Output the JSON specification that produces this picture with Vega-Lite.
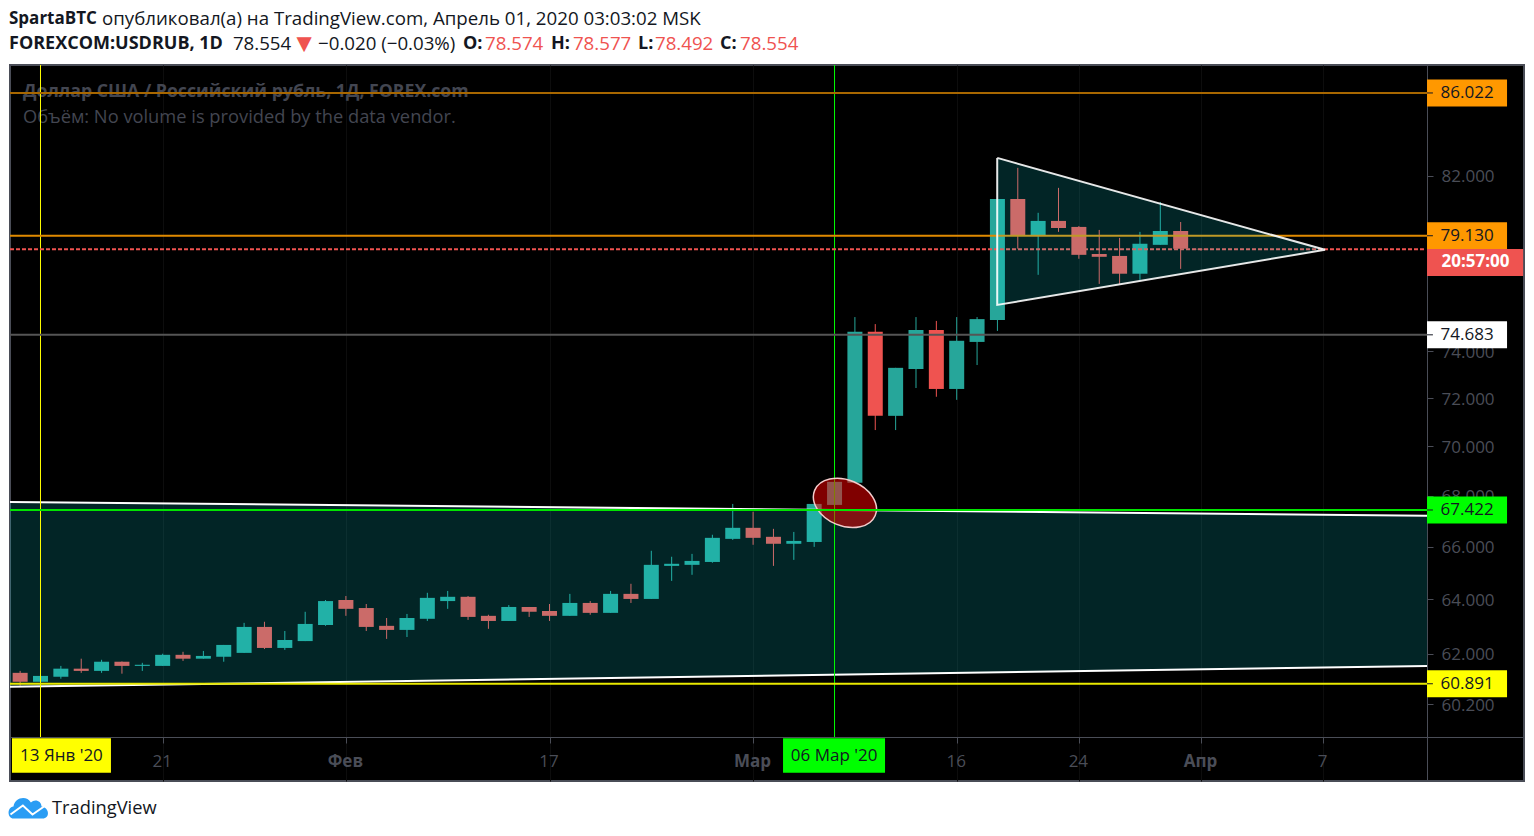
{"$schema":"https://vega.github.io/schema/vega-lite/v6.json","width":1514,"height":716,"autosize":{"type":"none"},"padding":{"left":10,"top":65,"right":10,"bottom":55},"background":"#ffffff","view":{"fill":"#000000","stroke":"#4a4d57","strokeWidth":2},
"resolve":{"scale":{"color":"independent"},"axis":{"x":"independent","y":"independent"}},
"config":{"font":"Open Sans","text":{"font":"Open Sans"}},
"datasets":{
"candles":[
{"bar":-1,"open":61.31,"high":61.38,"low":60.85,"close":60.99},
{"bar":0,"open":60.99,"high":61.25,"low":60.95,"close":61.2},
{"bar":1,"open":61.17,"high":61.56,"low":61.1,"close":61.46},
{"bar":2,"open":61.46,"high":61.82,"low":61.31,"close":61.38},
{"bar":3,"open":61.38,"high":61.78,"low":61.31,"close":61.71},
{"bar":4,"open":61.71,"high":61.72,"low":61.28,"close":61.56},
{"bar":5,"open":61.56,"high":61.67,"low":61.38,"close":61.6},
{"bar":6,"open":61.56,"high":62,"low":61.56,"close":61.96},
{"bar":7,"open":61.96,"high":62.07,"low":61.74,"close":61.82},
{"bar":8,"open":61.82,"high":62.1,"low":61.82,"close":61.92},
{"bar":9,"open":61.89,"high":62.32,"low":61.71,"close":62.32},
{"bar":10,"open":62.03,"high":63.13,"low":62.03,"close":62.98},
{"bar":11,"open":62.98,"high":63.17,"low":62.17,"close":62.21},
{"bar":12,"open":62.21,"high":62.83,"low":62.14,"close":62.5},
{"bar":13,"open":62.46,"high":63.54,"low":62.46,"close":63.09},
{"bar":14,"open":63.05,"high":63.98,"low":63.02,"close":63.94},
{"bar":15,"open":63.98,"high":64.13,"low":63.39,"close":63.65},
{"bar":16,"open":63.68,"high":63.83,"low":62.83,"close":62.98},
{"bar":17,"open":63.02,"high":63.31,"low":62.54,"close":62.87},
{"bar":18,"open":62.87,"high":63.46,"low":62.61,"close":63.31},
{"bar":19,"open":63.28,"high":64.25,"low":63.2,"close":64.06},
{"bar":20,"open":63.94,"high":64.32,"low":63.65,"close":64.1},
{"bar":21,"open":64.1,"high":64.13,"low":63.24,"close":63.35},
{"bar":22,"open":63.39,"high":63.43,"low":62.91,"close":63.2},
{"bar":23,"open":63.2,"high":63.79,"low":63.2,"close":63.72},
{"bar":24,"open":63.72,"high":63.72,"low":63.35,"close":63.54},
{"bar":25,"open":63.57,"high":63.83,"low":63.2,"close":63.39},
{"bar":26,"open":63.39,"high":64.21,"low":63.39,"close":63.87},
{"bar":27,"open":63.87,"high":63.94,"low":63.43,"close":63.5},
{"bar":28,"open":63.5,"high":64.32,"low":63.5,"close":64.21},
{"bar":29,"open":64.21,"high":64.59,"low":63.87,"close":64.02},
{"bar":30,"open":64.02,"high":65.85,"low":64.02,"close":65.31},
{"bar":31,"open":65.27,"high":65.62,"low":64.7,"close":65.35},
{"bar":32,"open":65.31,"high":65.73,"low":64.93,"close":65.46},
{"bar":33,"open":65.42,"high":66.47,"low":65.39,"close":66.35},
{"bar":34,"open":66.31,"high":67.68,"low":66.27,"close":66.74},
{"bar":35,"open":66.74,"high":67.37,"low":66.08,"close":66.35},
{"bar":36,"open":66.39,"high":66.7,"low":65.27,"close":66.12},
{"bar":37,"open":66.12,"high":66.58,"low":65.5,"close":66.23},
{"bar":38,"open":66.19,"high":67.68,"low":66,"close":67.68},
{"bar":39,"open":67.64,"high":68.6,"low":67.45,"close":68.56},
{"bar":40,"open":68.52,"high":75.5,"low":68.5,"close":74.85},
{"bar":41,"open":74.85,"high":75.19,"low":70.67,"close":71.26},
{"bar":42,"open":71.26,"high":73.29,"low":70.67,"close":73.29},
{"bar":43,"open":73.24,"high":75.5,"low":72.43,"close":74.93},
{"bar":44,"open":74.93,"high":75.33,"low":72.06,"close":72.39},
{"bar":45,"open":72.39,"high":75.5,"low":71.93,"close":74.46},
{"bar":46,"open":74.41,"high":75.5,"low":73.41,"close":75.41},
{"bar":47,"open":75.37,"high":80.9,"low":74.89,"close":80.9},
{"bar":48,"open":80.9,"high":82.39,"low":78.58,"close":79.17},
{"bar":49,"open":79.17,"high":80.25,"low":77.39,"close":79.87},
{"bar":50,"open":79.87,"high":81.43,"low":79.36,"close":79.54},
{"bar":51,"open":79.59,"high":79.63,"low":78.12,"close":78.3},
{"bar":52,"open":78.34,"high":79.45,"low":76.98,"close":78.21},
{"bar":53,"open":78.25,"high":79.08,"low":76.98,"close":77.44},
{"bar":54,"open":77.44,"high":79.36,"low":77.16,"close":78.81},
{"bar":55,"open":78.76,"high":80.76,"low":78.76,"close":79.4},
{"bar":56,"open":79.4,"high":79.82,"low":77.66,"close":78.58},
{"bar":57,"open":78.574,"high":78.577,"low":78.492,"close":78.554}],
"channel":[{"bar":-1.498,"top":67.76,"bottom":60.81},{"bar":68.1,"top":67.21,"bottom":61.56}],
"wedge":[{"bar":46.99,"top":82.87,"bottom":76.04},{"bar":63.09,"top":78.53,"bottom":78.53}],
"wedgeEdge":[{"bar":46.99,"price":82.87,"seq":1},{"bar":63.09,"price":78.53,"seq":2},{"bar":46.99,"price":76.04,"seq":3},{"bar":46.99,"price":82.87,"seq":4}],
"levels":[{"price":86.08,"label":"86.022"},{"price":79.18,"label":"79.130"},{"price":74.72,"label":"74.683"},{"price":67.44,"label":"67.422"},{"price":60.92,"label":"60.891"}],
"marks":[{"bar":0,"date":"13 Янв '20","center":1.03},{"bar":39,"date":"06 Мар '20","center":38.98}],
"dateTags":[{"start":-1.4,"end":3.46,"date":"13 Янв '20"},{"start":36.47,"end":41.48,"date":"06 Мар '20"}],
"header":[
{"bar":-1.547,"price":89.89,"text":"SpartaBTC","weight":"bold","tone":"ink"},
{"bar":3.02,"price":89.89,"text":"опубликовал(а) на TradingView.com, Апрель 01, 2020 03:03:02 MSK","weight":"normal","tone":"ink"},
{"bar":-1.547,"price":88.59,"text":"FOREXCOM:USDRUB, 1D","weight":"bold","tone":"ink"},
{"bar":9.45,"price":88.59,"text":"78.554","weight":"normal","tone":"ink"},
{"bar":12.31,"price":88.59,"text":"▼","weight":"normal","tone":"red"},
{"bar":13.63,"price":88.59,"text":"−0.020 (−0.03%)","weight":"normal","tone":"ink"},
{"bar":20.75,"price":88.59,"text":"O:","weight":"bold","tone":"ink"},
{"bar":21.83,"price":88.59,"text":"78.574","weight":"normal","tone":"red"},
{"bar":25.07,"price":88.59,"text":"H:","weight":"bold","tone":"ink"},
{"bar":26.15,"price":88.59,"text":"78.577","weight":"normal","tone":"red"},
{"bar":29.35,"price":88.59,"text":"L:","weight":"bold","tone":"ink"},
{"bar":30.18,"price":88.59,"text":"78.492","weight":"normal","tone":"red"},
{"bar":33.37,"price":88.59,"text":"C:","weight":"bold","tone":"ink"},
{"bar":34.36,"price":88.59,"text":"78.554","weight":"normal","tone":"red"},
{"bar":-0.86,"price":86.13,"text":"Доллар США / Российский рубль, 1Д, FOREX.com","weight":"bold","tone":"ghost"},
{"bar":-0.86,"price":84.83,"text":"Объём: No volume is provided by the data vendor.","weight":"normal","tone":"ghost"},
{"bar":0.565,"price":56.63,"text":"TradingView","weight":"normal","tone":"ink"}]
},
"layer":[
{"data":{"name":"candles"},"mark":{"type":"rule","strokeWidth":1},"encoding":{
"x":{"field":"bar","type":"quantitative","title":null,"scale":{"domain":[-1.498,72.863],"nice":false,"zero":false,"padding":0},"axis":{"orient":"bottom","offset":-44,"values":[6,15,25,35,45,51,57,63],"labelExpr":"{'6':'21','15':'Фев','25':'17','35':'Мар','45':'16','51':'24','57':'Апр','63':'7'}[datum.value]","title":null,"grid":true,"gridColor":"#0d0d0d","domainColor":"#4a4d57","tickColor":"#4a4d57","tickSize":6,"labelColor":"#4a4d57","labelFontSize":17,"labelFont":"Open Sans","labelPadding":10,"labelOffset":-1,"labelFontWeight":{"condition":{"test":"datum.value==15||datum.value==35||datum.value==57","value":"bold"},"value":"normal"}}},
"y":{"field":"high","type":"quantitative","title":null,"scale":{"type":"log","domain":[57.55,87.5],"nice":false,"zero":false,"padding":0},"axis":{"orient":"right","offset":-97,"values":[60.2,62,64,66,68,70,72,74,82],"format":".3f","title":null,"grid":false,"domainColor":"#4a4d57","tickColor":"#4a4d57","tickSize":6,"labelColor":"#4a4d57","labelFontSize":17,"labelFont":"Open Sans","labelPadding":8,"labelOffset":1}},
"y2":{"field":"low"},
"color":{"condition":{"test":"datum.close>=datum.open","value":"#26a69a"},"value":"#ef5350"}}},
{"data":{"name":"candles"},"mark":{"type":"bar","orient":"vertical","size":15},"encoding":{
"x":{"field":"bar","type":"quantitative","axis":null,"scale":{"domain":[-1.498,72.863],"nice":false,"zero":false,"padding":0}},
"y":{"field":"open","type":"quantitative","axis":null,"scale":{"type":"log","domain":[57.55,87.5],"nice":false,"zero":false,"padding":0}},
"y2":{"field":"close"},
"color":{"condition":{"test":"datum.close>=datum.open","value":"#26a69a"},"value":"#ef5350"}}},
{"data":{"name":"header"},"transform":[{"filter":"datum.weight=='normal'"}],"mark":{"type":"text","align":"left","baseline":"middle","font":"Open Sans"},"encoding":{
"x":{"field":"bar","type":"quantitative","axis":null,"scale":{"domain":[-1.498,72.863],"nice":false,"zero":false,"padding":0}},
"y":{"field":"price","type":"quantitative","axis":null,"scale":{"type":"log","domain":[57.55,87.5],"nice":false,"zero":false,"padding":0}},
"text":{"field":"text"},
"size":{"condition":[{"test":"datum.text=='▼'","value":26},{"test":"datum.tone=='ghost'||datum.text=='TradingView'","value":18.3}],"value":18.7},
"color":{"field":"tone","type":"nominal","legend":null,"scale":{"domain":["ink","red","ghost"],"range":["#131722","#ef5350","#434651"]}}}},
{"data":{"name":"header"},"transform":[{"filter":"datum.weight=='bold'"}],"mark":{"type":"text","align":"left","baseline":"middle","fontWeight":"bold","font":"Open Sans"},"encoding":{
"x":{"field":"bar","type":"quantitative","axis":null,"scale":{"domain":[-1.498,72.863],"nice":false,"zero":false,"padding":0}},
"y":{"field":"price","type":"quantitative","axis":null,"scale":{"type":"log","domain":[57.55,87.5],"nice":false,"zero":false,"padding":0}},
"text":{"field":"text"},
"size":{"condition":[{"test":"datum.tone=='ghost'","value":17.7},{"test":"datum.text=='SpartaBTC'","value":17}],"value":18},
"color":{"field":"tone","type":"nominal","legend":null,"scale":{"domain":["ink","red","ghost"],"range":["#131722","#ef5350","#434651"]}}}},
{"data":{"name":"channel"},"mark":{"type":"area","color":"#0deff5","opacity":0.155},"encoding":{
"x":{"field":"bar","type":"quantitative","axis":null,"scale":{"domain":[-1.498,72.863],"nice":false,"zero":false,"padding":0}},
"y":{"field":"top","type":"quantitative","axis":null,"scale":{"type":"log","domain":[57.55,87.5],"nice":false,"zero":false,"padding":0}},
"y2":{"field":"bottom"}}},
{"data":{"name":"channel"},"mark":{"type":"line","color":"#ffffff","strokeWidth":2},"encoding":{
"x":{"field":"bar","type":"quantitative","axis":null,"scale":{"domain":[-1.498,72.863],"nice":false,"zero":false,"padding":0}},
"y":{"field":"top","type":"quantitative","axis":null,"scale":{"type":"log","domain":[57.55,87.5],"nice":false,"zero":false,"padding":0}}}},
{"data":{"name":"channel"},"mark":{"type":"line","color":"#ffffff","strokeWidth":2},"encoding":{
"x":{"field":"bar","type":"quantitative","axis":null,"scale":{"domain":[-1.498,72.863],"nice":false,"zero":false,"padding":0}},
"y":{"field":"bottom","type":"quantitative","axis":null,"scale":{"type":"log","domain":[57.55,87.5],"nice":false,"zero":false,"padding":0}}}},
{"data":{"name":"marks"},"mark":{"type":"rule","strokeWidth":1},"encoding":{
"x":{"field":"bar","type":"quantitative","axis":null,"scale":{"domain":[-1.498,72.863],"nice":false,"zero":false,"padding":0}},
"y":{"datum":87.5,"type":"quantitative","axis":null,"scale":{"type":"log","domain":[57.55,87.5],"nice":false,"zero":false,"padding":0}},
"y2":{"datum":59.05},
"color":{"field":"date","type":"nominal","legend":null,"scale":{"domain":["13 Янв '20","06 Мар '20"],"range":["#ffff00","#00ff00"]}}}},
{"data":{"values":[{"bar":39.51,"price":67.72}]},"mark":{"type":"point","shape":"M -0.924 -0.383 A 1 0.7 22.5 1 1 0.924 0.383 A 1 0.7 22.5 1 1 -0.924 -0.383 Z","size":4300,"filled":true,"fill":"#ff0000","fillOpacity":0.5,"stroke":"#f3cccc","strokeWidth":1.5,"strokeOpacity":1,"opacity":1},"encoding":{
"x":{"field":"bar","type":"quantitative","axis":null,"scale":{"domain":[-1.498,72.863],"nice":false,"zero":false,"padding":0}},
"y":{"field":"price","type":"quantitative","axis":null,"scale":{"type":"log","domain":[57.55,87.5],"nice":false,"zero":false,"padding":0}}}},
{"data":{"name":"levels"},"mark":{"type":"rule","strokeWidth":2},"encoding":{
"x":{"datum":-1.498,"type":"quantitative","axis":null,"scale":{"domain":[-1.498,72.863],"nice":false,"zero":false,"padding":0}},
"x2":{"datum":68.1},
"y":{"field":"price","type":"quantitative","axis":null,"scale":{"type":"log","domain":[57.55,87.5],"nice":false,"zero":false,"padding":0}},
"color":{"field":"label","type":"nominal","legend":null,"scale":{"domain":["86.022","79.130","74.683","67.422","60.891"],"range":["#a86700","#e08a00","#555555","#00e600","#e8e800"]}}}},
{"data":{"values":[{"price":78.554}]},"mark":{"type":"rule","strokeWidth":2,"color":"#ef5350","strokeDash":[4,2]},"encoding":{
"x":{"datum":-1.498,"type":"quantitative","axis":null,"scale":{"domain":[-1.498,72.863],"nice":false,"zero":false,"padding":0}},
"x2":{"datum":67.95},
"y":{"field":"price","type":"quantitative","axis":null,"scale":{"type":"log","domain":[57.55,87.5],"nice":false,"zero":false,"padding":0}}}},
{"data":{"name":"wedge"},"mark":{"type":"area","color":"#0deff5","opacity":0.155},"encoding":{
"x":{"field":"bar","type":"quantitative","axis":null,"scale":{"domain":[-1.498,72.863],"nice":false,"zero":false,"padding":0}},
"y":{"field":"top","type":"quantitative","axis":null,"scale":{"type":"log","domain":[57.55,87.5],"nice":false,"zero":false,"padding":0}},
"y2":{"field":"bottom"}}},
{"data":{"name":"wedgeEdge"},"mark":{"type":"line","color":"#ffffff","strokeWidth":2,"opacity":0.9},"encoding":{
"x":{"field":"bar","type":"quantitative","axis":null,"scale":{"domain":[-1.498,72.863],"nice":false,"zero":false,"padding":0}},
"y":{"field":"price","type":"quantitative","axis":null,"scale":{"type":"log","domain":[57.55,87.5],"nice":false,"zero":false,"padding":0}},
"order":{"field":"seq"}}},
{"data":{"name":"levels"},"mark":{"type":"bar","orient":"horizontal","size":27},"encoding":{
"x":{"datum":68.1,"type":"quantitative","axis":null,"scale":{"domain":[-1.498,72.863],"nice":false,"zero":false,"padding":0}},
"x2":{"datum":72.03},
"y":{"field":"price","type":"quantitative","axis":null,"scale":{"type":"log","domain":[57.55,87.5],"nice":false,"zero":false,"padding":0}},
"color":{"field":"label","type":"nominal","legend":null,"scale":{"domain":["86.022","79.130","74.683","67.422","60.891"],"range":["#ff9800","#ff9800","#ffffff","#00ff00","#ffff00"]}}}},
{"data":{"name":"levels"},"mark":{"type":"rule","strokeWidth":1,"color":"#131722"},"encoding":{
"x":{"datum":68.1,"type":"quantitative","axis":null,"scale":{"domain":[-1.498,72.863],"nice":false,"zero":false,"padding":0}},
"x2":{"datum":68.39},
"y":{"field":"price","type":"quantitative","axis":null,"scale":{"type":"log","domain":[57.55,87.5],"nice":false,"zero":false,"padding":0}}}},
{"data":{"name":"levels"},"mark":{"type":"text","align":"center","baseline":"middle","fontSize":17,"color":"#131722","font":"Open Sans"},"encoding":{
"x":{"datum":70.07,"type":"quantitative","axis":null,"scale":{"domain":[-1.498,72.863],"nice":false,"zero":false,"padding":0}},
"y":{"field":"price","type":"quantitative","axis":null,"scale":{"type":"log","domain":[57.55,87.5],"nice":false,"zero":false,"padding":0}},
"text":{"field":"label"}}},
{"data":{"values":[{"price":77.95,"label":"20:57:00"}]},"mark":{"type":"bar","orient":"horizontal","size":27,"color":"#ef5350"},"encoding":{
"x":{"datum":68.1,"type":"quantitative","axis":null,"scale":{"domain":[-1.498,72.863],"nice":false,"zero":false,"padding":0}},
"x2":{"datum":72.82},
"y":{"field":"price","type":"quantitative","axis":null,"scale":{"type":"log","domain":[57.55,87.5],"nice":false,"zero":false,"padding":0}}}},
{"data":{"values":[{"price":77.95,"label":"20:57:00"}]},"mark":{"type":"text","align":"center","baseline":"middle","fontSize":17,"fontWeight":"bold","color":"#ffffff","font":"Open Sans"},"encoding":{
"x":{"datum":70.48,"type":"quantitative","axis":null,"scale":{"domain":[-1.498,72.863],"nice":false,"zero":false,"padding":0}},
"y":{"field":"price","type":"quantitative","axis":null,"scale":{"type":"log","domain":[57.55,87.5],"nice":false,"zero":false,"padding":0}},
"text":{"field":"label"}}},
{"data":{"name":"dateTags"},"mark":{"type":"rect"},"encoding":{
"x":{"field":"start","type":"quantitative","axis":null,"scale":{"domain":[-1.498,72.863],"nice":false,"zero":false,"padding":0}},
"x2":{"field":"end"},
"y":{"datum":59.01,"type":"quantitative","axis":null,"scale":{"type":"log","domain":[57.55,87.5],"nice":false,"zero":false,"padding":0}},
"y2":{"datum":57.83},
"color":{"field":"date","type":"nominal","legend":null,"scale":{"domain":["13 Янв '20","06 Мар '20"],"range":["#ffff00","#00ff00"]}}}},
{"data":{"name":"marks"},"mark":{"type":"text","align":"center","baseline":"middle","fontSize":17,"color":"#131722","font":"Open Sans"},"encoding":{
"x":{"field":"center","type":"quantitative","axis":null,"scale":{"domain":[-1.498,72.863],"nice":false,"zero":false,"padding":0}},
"y":{"datum":58.39,"type":"quantitative","axis":null,"scale":{"type":"log","domain":[57.55,87.5],"nice":false,"zero":false,"padding":0}},
"text":{"field":"date"}}},
{"data":{"values":[{"bar":-0.59,"price":56.63}]},"mark":{"type":"point","shape":"M-0.75 0.5 C-1.05 0.5 -1.1 -0.05 -0.75 -0.1 C-0.7 -0.55 -0.1 -0.7 0.12 -0.3 C0.3 -0.5 0.65 -0.4 0.65 -0.1 C1.05 -0.05 1.1 0.5 0.7 0.5 Z","size":1600,"filled":true,"fill":"#2a9df4","opacity":1,"strokeWidth":0},"encoding":{
"x":{"field":"bar","type":"quantitative","axis":null,"scale":{"domain":[-1.498,72.863],"nice":false,"zero":false,"padding":0}},
"y":{"field":"price","type":"quantitative","axis":null,"scale":{"type":"log","domain":[57.55,87.5],"nice":false,"zero":false,"padding":0}}}},
{"data":{"values":[{"bar":-0.59,"price":56.63}]},"mark":{"type":"point","shape":"M-0.9 0.3 L-0.28 -0.15 L0.2 0.3 L0.85 -0.15","size":1600,"filled":false,"fill":null,"stroke":"#ffffff","strokeWidth":2,"opacity":1},"encoding":{
"x":{"field":"bar","type":"quantitative","axis":null,"scale":{"domain":[-1.498,72.863],"nice":false,"zero":false,"padding":0}},
"y":{"field":"price","type":"quantitative","axis":null,"scale":{"type":"log","domain":[57.55,87.5],"nice":false,"zero":false,"padding":0}}}}
]}
